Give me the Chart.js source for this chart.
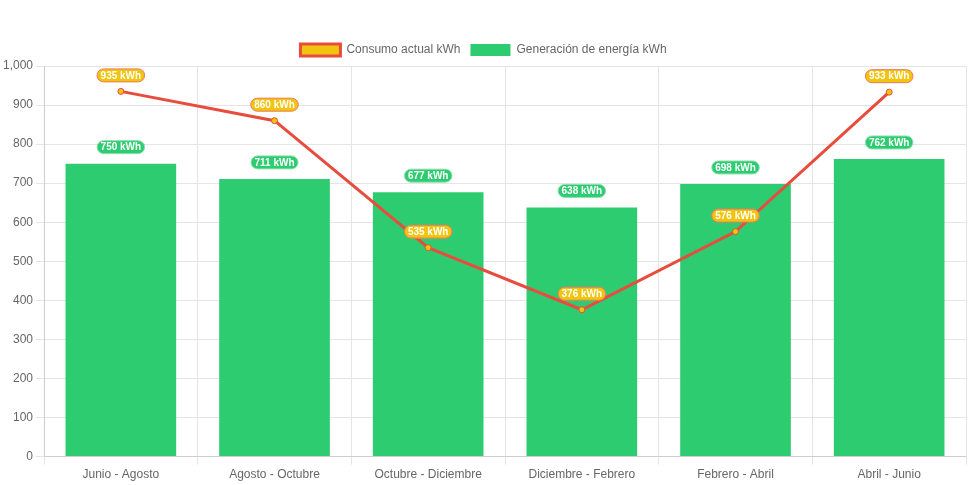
<!DOCTYPE html>
<html>
<head>
<meta charset="utf-8">
<script src="https://cdn.jsdelivr.net/npm/chart.js@4"></script>
<style>
  html, body { margin: 0; padding: 0; background: #fff; }
  #wrap { width: 971px; height: 485px; }
</style>
</head>
<body>
<div id="wrap"><canvas id="chart"></canvas></div>
<script>
var periods = ['Junio - Agosto', 'Agosto - Octubre', 'Octubre - Diciembre', 'Diciembre - Febrero', 'Febrero - Abril', 'Abril - Junio'];
var consumo = [935, 860, 535, 376, 576, 933];
var generacion = [750, 711, 677, 638, 698, 762];

// little rounded value boxes above each point / bar
var valueBoxes = {
  id: 'valueBoxes',
  afterDatasetsDraw: function (chart) {
    var ctx = chart.ctx;
    ctx.save();
    ctx.font = 'bold 10px Arial, "Liberation Sans", sans-serif';
    ctx.textAlign = 'center';
    ctx.textBaseline = 'middle';
    // bars first, then line labels on top
    [1, 0].forEach(function (di) {
      var ds = chart.data.datasets[di];
      var meta = chart.getDatasetMeta(di);
      meta.data.forEach(function (el, i) {
        var txt = ds.data[i] + ' kWh';
        var w = ctx.measureText(txt).width + 7;
        var h = 13;
        var x = el.x;
        var y = el.y - (di === 0 ? 16 : 16.5);
        ctx.beginPath();
        ctx.roundRect(x - w / 2, y - h / 2, w, h, 6.5);
        ctx.fillStyle = ds.labelBg;
        ctx.fill();
        ctx.lineWidth = 1;
        ctx.strokeStyle = ds.labelBorder;
        ctx.stroke();
        ctx.fillStyle = '#fff';
        ctx.fillText(txt, x, y + 0.5);
      });
    });
    ctx.restore();
  }
};

new Chart(document.getElementById('chart'), {
  type: 'bar',
  data: {
    labels: periods,
    datasets: [
      {
        type: 'line',
        label: 'Consumo actual kWh',
        data: consumo,
        borderColor: '#e74c3c',
        backgroundColor: '#f1c40f',
        borderWidth: 3,
        pointRadius: 3,
        pointBorderWidth: 1,
        pointBackgroundColor: '#f1c40f',
        pointBorderColor: '#e74c3c',
        tension: 0,
        order: 0,
        labelBg: '#f1c40f',
        labelBorder: '#ee7a5a'
      },
      {
        label: 'Generación de energía kWh',
        data: generacion,
        backgroundColor: '#2ecc71',
        borderWidth: 0,
        order: 1,
        labelBg: '#2ecc71',
        labelBorder: '#8fe0b0'
      }
    ]
  },
  options: {
    responsive: true,
    maintainAspectRatio: false,
    animation: false,
    layout: { padding: { top: 34, right: 4, left: 0, bottom: 0 } },
    plugins: {
      legend: {
        position: 'top',
        labels: { color: '#666', font: { size: 12 } }
      },
      tooltip: { enabled: false }
    },
    scales: {
      x: {
        ticks: { color: '#666', font: { size: 12 } },
        grid: { color: '#e5e5e5' }
      },
      y: {
        min: 0,
        max: 1000,
        ticks: { stepSize: 100, color: '#666', font: { size: 12 } },
        grid: { color: '#e5e5e5' }
      }
    }
  },
  plugins: [valueBoxes]
});
</script>
</body>
</html>
